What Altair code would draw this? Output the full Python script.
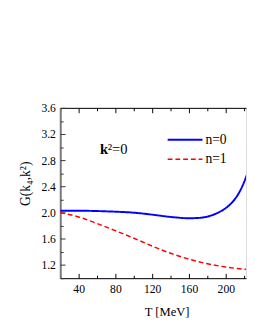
import altair as alt
import pandas as pd

# n=0 curve
t_n0 = [20, 40, 60, 80, 100, 120, 140, 160, 170, 180, 190, 200, 205, 210, 215, 220, 224]
g_n0 = [2.03, 2.03, 2.025, 2.015, 2.0, 1.97, 1.935, 1.915, 1.92, 1.94, 1.99, 2.07, 2.13, 2.21, 2.32, 2.47, 2.62]
# n=1 curve
t_n1 = [20, 40, 60, 80, 100, 120, 140, 160, 180, 200, 224]
g_n1 = [2.00, 1.935, 1.835, 1.725, 1.61, 1.49, 1.38, 1.29, 1.22, 1.17, 1.13]
series = ["n=0", "n=1"]

x_major = [40, 80, 120, 160, 200]
x_all = [20, 40, 60, 80, 100, 120, 140, 160, 180, 200, 220]
y_major = [1.2, 1.6, 2.0, 2.4, 2.8, 3.2, 3.6]
y_all = [1.0, 1.2, 1.4, 1.6, 1.8, 2.0, 2.2, 2.4, 2.6, 2.8, 3.0, 3.2, 3.4, 3.6]

df = pd.DataFrame({
    "T": t_n0 + t_n1,
    "G": g_n0 + g_n1,
    "s": [series[0]] * len(t_n0) + [series[1]] * len(t_n1),
})

W, H = 192, 176
FONT = "Liberation Serif"
xs = alt.Scale(domain=[20, 222], nice=False, zero=False)
ys = alt.Scale(domain=[1.0, 3.6], nice=False, zero=False)

leg = alt.Legend(title=None, orient="none", legendX=110, legendY=23, symbolType="stroke",
                 symbolSize=1296, symbolStrokeWidth=2, clipHeight=20, rowPadding=0,
                 labelFont=FONT, labelFontSize=14, labelColor="black", labelOffset=2, padding=0)

base = alt.Chart(df)

lines = base.mark_line(clip=True, interpolate="monotone").encode(
    x=alt.X("T:Q", scale=xs, axis=alt.Axis(
        orient="bottom", values=x_major, ticks=False, tickSize=0, grid=False, labelPadding=6,
        labelFont=FONT, labelFontSize=12, labelColor="black", format="d",
        domainColor="black", domainWidth=1,
        title="T [MeV]", titleFont=FONT, titleFontSize=13, titleFontWeight="normal",
        titleColor="black", titleX=110, titleY=29, titleBaseline="top")),
    y=alt.Y("G:Q", scale=ys, axis=alt.Axis(
        orient="left", values=y_major, ticks=False, tickSize=0, grid=False, labelPadding=5,
        labelFont=FONT, labelFontSize=12, labelColor="black", format=".1f",
        domainColor="#777777", domainWidth=2,
        title="G(k₄,k²)", titleFont=FONT, titleFontSize=14, titleFontWeight="normal",
        titleColor="black", titleX=-29, titleY=78, titleBaseline="bottom", titleAngle=270)),
    color=alt.Color("s:N", scale=alt.Scale(domain=series, range=["#0000ff", "#ff0000"]), legend=leg),
    strokeDash=alt.StrokeDash("s:N", scale=alt.Scale(domain=series, range=[[1, 0], [5, 3]]), legend=leg),
    strokeWidth=alt.StrokeWidth("s:N", scale=alt.Scale(domain=series, range=[2, 1.5]), legend=None),
)

xtick_cond = {"condition": {"test": "datum.value % 40 == 0", "value": 5}, "value": 3}
ytick_cond = {"condition": {"test": "round(datum.value * 10) % 4 == 0", "value": 5}, "value": 3}

ticks_in = base.mark_line(opacity=0).encode(
    x=alt.X("T:Q", scale=xs, axis=alt.Axis(
        orient="top", offset=-H, values=x_all, labels=False, domain=False, grid=False,
        tickSize=xtick_cond, tickColor="black", title=None)),
    y=alt.Y("G:Q", scale=ys, axis=alt.Axis(
        orient="right", offset=-W, values=y_all, labels=False, domain=False, grid=False,
        tickSize=ytick_cond, tickColor="#333333", title=None)),
)

top_frame = base.mark_line(opacity=0).encode(
    x=alt.X("T:Q", scale=xs, axis=alt.Axis(
        orient="bottom", offset=-H, values=x_all, labels=False, domain=True, domainColor="black",
        grid=False, tickSize=xtick_cond, tickColor="black", title=None)),
    y=alt.Y("G:Q", scale=ys, axis=None),
)

ann_df = pd.DataFrame({"k": ["k"], "r": ["²=0"]})
ann_k = alt.Chart(ann_df).mark_text(align="left", baseline="alphabetic", font=FONT, fontSize=15,
                                     fontWeight="bold", color="black").encode(
    x=alt.value(41), y=alt.value(48), text="k:N")
ann_r = alt.Chart(ann_df).mark_text(align="left", baseline="alphabetic", font=FONT, fontSize=15,
                                     color="black").encode(
    x=alt.value(49), y=alt.value(48), text="r:N")

chart = alt.layer(lines, ticks_in, top_frame, ann_k, ann_r).resolve_axis(
    x="independent", y="independent"
).properties(
    width=W, height=H,
    autosize=alt.AutoSizeParams(type="none"),
    padding={"left": 54, "top": 98, "right": 1, "bottom": 38},
).configure_view(stroke=None).configure(background="white")

chart.save("out.html", embed_options={"renderer": "svg", "actions": False})
